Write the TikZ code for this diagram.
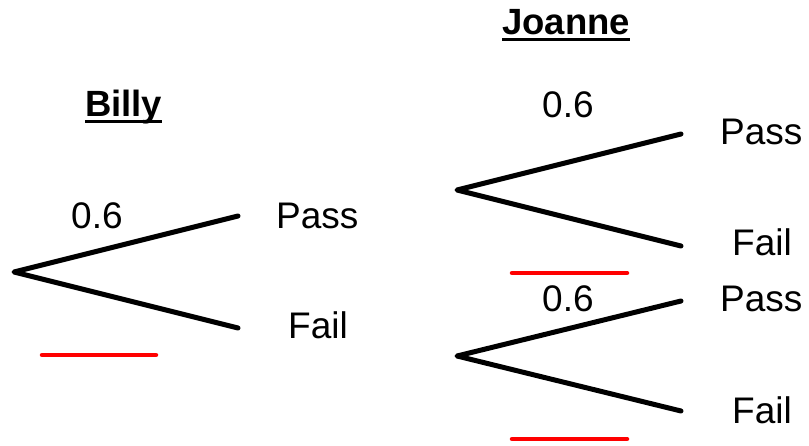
\documentclass[tikz,border=0pt]{standalone}
\usepackage{fontspec}
\setmainfont{Liberation Sans}
\newcommand\myul[1]{\setbox0\hbox{#1}\rlap{\rule[-6pt]{\wd0}{3pt}}\box0}
\begin{document}
\begin{tikzpicture}[x=1pt,y=-1pt,
  branch/.style={line width=5pt,line cap=round,line join=round},
  redline/.style={red,line width=4.5pt,line cap=round},
  lbl/.style={anchor=base west,inner sep=0pt,font=\fontsize{37}{40}\selectfont},
  ttl/.style={anchor=base west,inner sep=0pt,font=\fontsize{36.5}{40}\selectfont\bfseries}]
\useasboundingbox (0,0) rectangle (809,446);
% Billy
\node[ttl] (billy) at (85,117) {\myul{Billy}};
\coordinate (b0) at (14,272);
\coordinate (bp) at (238,216);
\coordinate (bf) at (238,328);
\draw[branch] (bp) -- (b0) -- (bf);
\node[lbl] (b06) at (71,229) {0.6};
\node[lbl] (bpass) at (276,229) {Pass};
\node[lbl] (bfail) at (288,339) {Fail};
\coordinate (br1) at (42,355);
\coordinate (br2) at (156,355);
\draw[redline] (br1) -- (br2);
% Joanne
\node[ttl] (joanne) at (502,35) {\myul{Joanne}};
\coordinate (j0) at (457,190);
\coordinate (jp) at (681,134);
\coordinate (jf) at (681,246);
\draw[branch] (jp) -- (j0) -- (jf);
\node[lbl] (j06) at (542,118) {0.6};
\node[lbl] (jpass) at (720,145) {Pass};
\node[lbl] (jfail) at (732,256) {Fail};
\coordinate (jr1) at (512,273);
\coordinate (jr2) at (627,273);
\draw[redline] (jr1) -- (jr2);
\coordinate (k0) at (457,356);
\coordinate (kp) at (681,301);
\coordinate (kf) at (681,411);
\draw[branch] (kp) -- (k0) -- (kf);
\node[lbl] (k06) at (542,312) {0.6};
\node[lbl] (kpass) at (720,312) {Pass};
\node[lbl] (kfail) at (732,423) {Fail};
\coordinate (kr1) at (512,439);
\coordinate (kr2) at (627,439);
\draw[redline] (kr1) -- (kr2);
\end{tikzpicture}
\end{document}
